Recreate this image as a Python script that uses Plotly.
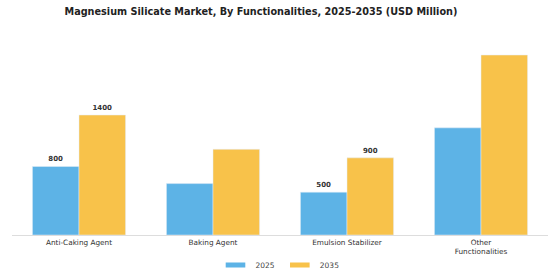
import plotly.graph_objects as go

categories = ["Anti-Caking Agent", "Baking Agent", "Emulsion Stabilizer", "Other<br>Functionalities"]
values_2025 = [800, 600, 500, 1250]
values_2035 = [1400, 1000, 900, 2100]
labels_2025 = ["800", "", "500", ""]
labels_2035 = ["1400", "", "900", ""]
series_names = ["2025", "2035"]
colors = ["#5DB3E6", "#F8C24A"]

fig = go.Figure()
for name, vals, labs, col in zip(series_names, [values_2025, values_2035], [labels_2025, labels_2035], colors):
    fig.add_bar(x=categories, y=vals, name=name, marker_color=col, showlegend=False,
                text=labs, textposition="outside", cliponaxis=False,
                textfont=dict(size=7, color="#333", family="DejaVu Sans", weight="bold"))
for name, col in zip(series_names, colors):
    fig.add_scatter(x=[None], y=[None], mode="markers", name=name,
                    marker=dict(symbol="line-ew", size=14, line=dict(width=5, color=col)))

fig.update_layout(
    width=560, height=280,
    margin=dict(l=12, r=12, t=45, b=45),
    paper_bgcolor="white", plot_bgcolor="white",
    barmode="group", bargap=0.305, bargroupgap=0,
    title=dict(text="<b>Magnesium Silicate Market, By Functionalities, 2025-2035 (USD Million)</b>",
               x=0.466, xanchor="center", y=0.957, yanchor="middle",
               font=dict(size=9.7, color="#222", family="DejaVu Sans")),
    font=dict(family="DejaVu Sans", color="#333"),
    showlegend=True,
    legend=dict(orientation="h", x=0.5, xanchor="center", yref="container", y=0.054, yanchor="middle",
                font=dict(size=7.5, color="#444"), itemwidth=30),
)
fig.update_xaxes(showline=True, linecolor="#ddd", linewidth=1, ticks="", automargin=False,
                 tickfont=dict(size=7.3, color="#333"), showgrid=False)
fig.update_yaxes(visible=False, range=[0, 2217], showgrid=False, automargin=False)

fig.write_html("out.html")
